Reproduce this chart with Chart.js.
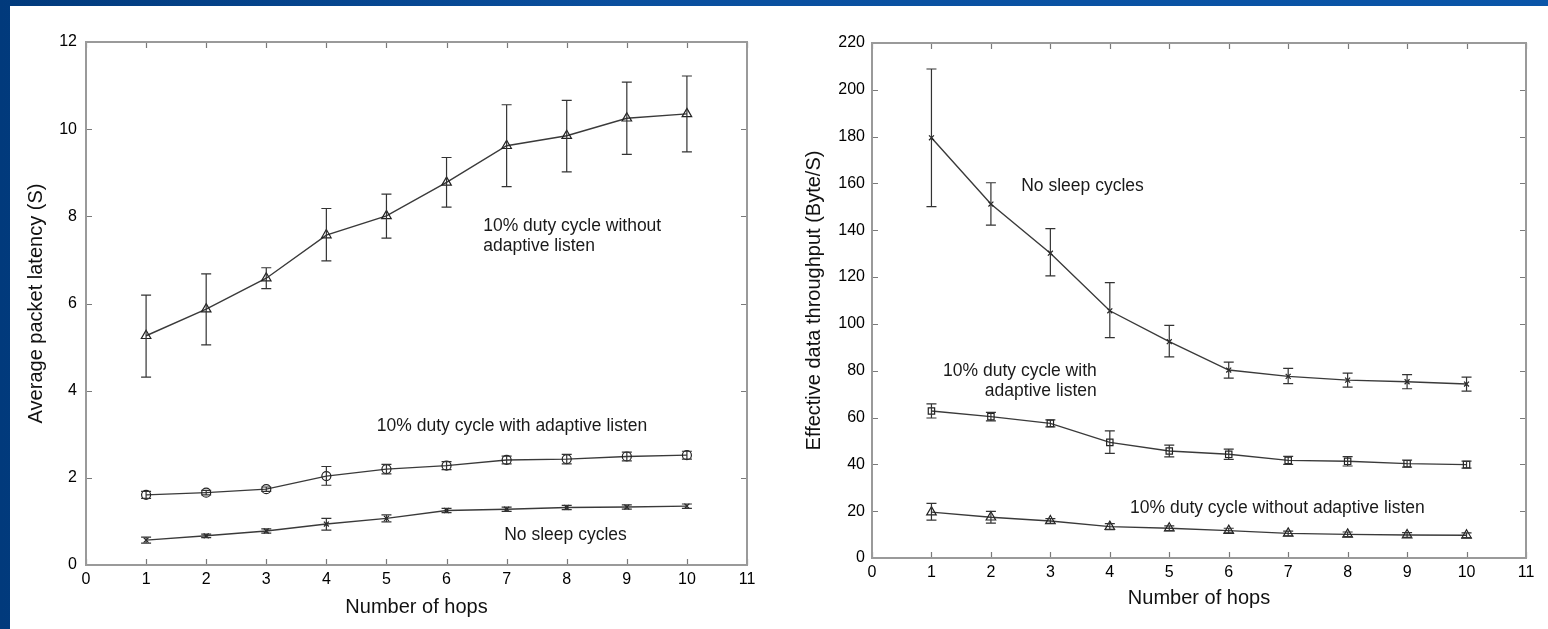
<!DOCTYPE html>
<html>
<head>
<meta charset="utf-8">
<script src="https://cdn.jsdelivr.net/npm/chart.js@4"></script>
<style>
  html, body { margin: 0; padding: 0; }
  body { width: 1548px; height: 629px; overflow: hidden; position: relative;
         background: linear-gradient(to right, #013a7c, #0a4f9e 40%, #0a55a8); }
  #panel { position: absolute; left: 10px; top: 6px; right: 0; bottom: 0; background: #fff; }
  .box { position: absolute; top: 0; height: 629px; }
  #leftBox { left: 0; width: 780px; }
  #rightBox { left: 780px; width: 768px; }
</style>
</head>
<body>
<div id="panel"></div>
<div class="box" id="leftBox"><canvas id="latency"></canvas></div>
<div class="box" id="rightBox"><canvas id="throughput"></canvas></div>
<script>
// number of hops (x axis)
const hops = [1, 2, 3, 4, 5, 6, 7, 8, 9, 10];

// average packet latency (S)
const latNoAdaptive   = [5.26, 5.87, 6.58, 7.57, 8.01, 8.78, 9.62, 9.85, 10.25, 10.35];
const latNoAdaptiveLo = [4.31, 5.05, 6.34, 6.98, 7.50, 8.21, 8.68, 9.02, 9.42, 9.48];
const latNoAdaptiveHi = [6.19, 6.68, 6.82, 8.18, 8.51, 9.35, 10.56, 10.66, 11.08, 11.22];

const latAdaptive   = [1.61, 1.66, 1.74, 2.04, 2.20, 2.28, 2.41, 2.43, 2.49, 2.52];
const latAdaptiveLo = [1.53, 1.61, 1.69, 1.83, 2.09, 2.19, 2.32, 2.32, 2.39, 2.43];
const latAdaptiveHi = [1.69, 1.71, 1.79, 2.26, 2.31, 2.37, 2.50, 2.54, 2.59, 2.61];

const latNoSleep   = [0.57, 0.67, 0.78, 0.94, 1.07, 1.25, 1.28, 1.32, 1.33, 1.35];
const latNoSleepLo = [0.50, 0.63, 0.73, 0.80, 0.99, 1.20, 1.23, 1.27, 1.28, 1.30];
const latNoSleepHi = [0.64, 0.71, 0.83, 1.07, 1.15, 1.30, 1.33, 1.37, 1.38, 1.40];

// effective data throughput (Byte/S)
const thrNoSleep   = [179.5, 151.2, 130.2, 105.6, 92.4, 80.3, 77.6, 76.0, 75.3, 74.3];
const thrNoSleepLo = [150.1, 142.2, 120.5, 94.1, 85.9, 76.8, 74.5, 73.0, 72.3, 71.3];
const thrNoSleepHi = [208.9, 160.3, 140.7, 117.6, 99.4, 83.7, 81.0, 79.0, 78.3, 77.3];

const thrAdaptive   = [62.8, 60.4, 57.5, 49.4, 45.7, 44.3, 41.7, 41.3, 40.3, 39.9];
const thrAdaptiveLo = [59.8, 58.6, 56.0, 44.7, 43.2, 42.1, 40.0, 39.3, 38.8, 38.4];
const thrAdaptiveHi = [65.8, 62.2, 59.0, 54.3, 48.2, 46.5, 43.4, 43.3, 41.8, 41.4];

const thrNoAdaptive   = [19.6, 17.4, 15.8, 13.4, 12.7, 11.7, 10.5, 10.1, 9.8, 9.7];
const thrNoAdaptiveLo = [16.2, 14.9, 14.8, 12.1, 11.7, 10.7, 9.5, 9.1, 8.8, 8.7];
const thrNoAdaptiveHi = [23.3, 19.9, 16.8, 14.7, 13.7, 12.7, 11.5, 11.1, 10.8, 10.7];

const xTicks = [0, 1, 2, 3, 4, 5, 6, 7, 8, 9, 10, 11];

const FONT = '"Liberation Sans", Arial, sans-serif';
const LINE = '#3a3a3a';

const pts = (ys) => hops.map((x, i) => ({ x: x, y: ys[i] }));

function series(ys, lo, hi, style, radius) {
  return {
    data: pts(ys),
    errLo: lo,
    errHi: hi,
    borderColor: LINE,
    borderWidth: 1.4,
    pointStyle: style,
    pointRadius: radius,
    pointBorderColor: '#222',
    pointBorderWidth: 1.2,
    pointBackgroundColor: 'transparent',
    fill: false,
    tension: 0
  };
}

// error bars, drawn through the chart's own scales
const errorBars = {
  id: 'errorBars',
  afterDatasetsDraw(chart) {
    const { ctx, scales: { x, y } } = chart;
    ctx.save();
    ctx.strokeStyle = '#333';
    ctx.lineWidth = 1.2;
    chart.data.datasets.forEach(ds => {
      if (!ds.errLo) return;
      ds.data.forEach((p, i) => {
        const px = x.getPixelForValue(p.x);
        const top = y.getPixelForValue(ds.errHi[i]);
        const bot = y.getPixelForValue(ds.errLo[i]);
        ctx.beginPath();
        ctx.moveTo(px, top); ctx.lineTo(px, bot);
        ctx.moveTo(px - 5, top); ctx.lineTo(px + 5, top);
        ctx.moveTo(px - 5, bot); ctx.lineTo(px + 5, bot);
        ctx.stroke();
      });
    });
    ctx.restore();
  }
};

// matlab style box with inward ticks on all four sides
const frame = {
  id: 'frame',
  afterDraw(chart) {
    const { ctx, chartArea: a, scales: { x, y } } = chart;
    ctx.save();
    ctx.strokeStyle = '#7a7a7a';
    ctx.lineWidth = 1.2;
    ctx.beginPath();
    x.ticks.forEach(t => {
      const px = Math.round(x.getPixelForValue(t.value)) + 0.5;
      ctx.moveTo(px, a.bottom); ctx.lineTo(px, a.bottom - 6);
      ctx.moveTo(px, a.top); ctx.lineTo(px, a.top + 6);
    });
    y.ticks.forEach(t => {
      const py = Math.round(y.getPixelForValue(t.value)) + 0.5;
      ctx.moveTo(a.left, py); ctx.lineTo(a.left + 6, py);
      ctx.moveTo(a.right, py); ctx.lineTo(a.right - 6, py);
    });
    ctx.stroke();
    ctx.lineWidth = 2;
    ctx.strokeStyle = '#9a9a9a';
    ctx.strokeRect(a.left, a.top, a.right - a.left, a.bottom - a.top);
    ctx.restore();
  }
};

// text labels placed in data units
const notes = {
  id: 'notes',
  afterDraw(chart, args, opts) {
    const { ctx, scales: { x, y } } = chart;
    ctx.save();
    ctx.fillStyle = '#1a1a1a';
    ctx.font = '17.5px ' + FONT;
    ctx.textBaseline = 'middle';
    (opts.items || []).forEach(n => {
      ctx.textAlign = n.align || 'left';
      ctx.fillText(n.text, x.getPixelForValue(n.x), y.getPixelForValue(n.y));
    });
    ctx.restore();
  }
};

function makeOptions(cfg) {
  return {
    responsive: true,
    maintainAspectRatio: false,
    animation: false,
    layout: { padding: { top: cfg.top, right: cfg.right, left: 0, bottom: 0 } },
    plugins: {
      legend: { display: false },
      tooltip: { enabled: false },
      notes: { items: cfg.notes }
    },
    scales: {
      x: {
        type: 'linear',
        min: 0, max: 11,
        afterBuildTicks: s => { s.ticks = xTicks.map(v => ({ value: v })); },
        afterFit: s => { s.height = cfg.xHeight; },
        grid: { display: false, drawTicks: false },
        border: { display: false },
        ticks: { color: '#000', font: { family: FONT, size: 16 }, padding: 5 },
        title: { display: true, text: 'Number of hops', color: '#111',
                 font: { family: FONT, size: 20 }, padding: { top: 0, bottom: cfg.xTitlePad } }
      },
      y: {
        min: 0, max: cfg.yMax,
        afterBuildTicks: s => { s.ticks = cfg.yTicks.map(v => ({ value: v })); },
        afterFit: s => { s.width = cfg.yWidth; },
        grid: { display: false, drawTicks: false },
        border: { display: false },
        ticks: { color: '#000', font: { family: FONT, size: 16 }, padding: cfg.yPad },
        title: { display: true, text: cfg.yTitle, color: '#111',
                 font: { family: FONT, size: 20 }, padding: { top: cfg.yTitlePad, bottom: 0 } }
      }
    }
  };
}

const latTicks = [0, 2, 4, 6, 8, 10, 12];
const thrTicks = [0, 20, 40, 60, 80, 100, 120, 140, 160, 180, 200, 220];

new Chart('latency', {
  type: 'line',
  data: {
    datasets: [
      series(latNoAdaptive, latNoAdaptiveLo, latNoAdaptiveHi, 'triangle', 5.5),
      series(latAdaptive, latAdaptiveLo, latAdaptiveHi, 'circle', 4.5),
      series(latNoSleep, latNoSleepLo, latNoSleepHi, 'crossRot', 3.5)
    ]
  },
  options: makeOptions({
    top: 42, right: 33, xHeight: 64, yWidth: 86, yPad: 9, yMax: 12,
    yTicks: latTicks, xTitlePad: 10, yTitlePad: 24,
    yTitle: 'Average packet latency (S)',
    notes: [
      { text: '10% duty cycle without', x: 6.61, y: 7.78 },
      { text: 'adaptive listen', x: 6.61, y: 7.32 },
      { text: '10% duty cycle with adaptive listen', x: 4.84, y: 3.19 },
      { text: 'No sleep cycles', x: 6.96, y: 0.69 }
    ]
  }),
  plugins: [errorBars, frame, notes]
});

new Chart('throughput', {
  type: 'line',
  data: {
    datasets: [
      series(thrNoSleep, thrNoSleepLo, thrNoSleepHi, 'crossRot', 3.5),
      series(thrAdaptive, thrAdaptiveLo, thrAdaptiveHi, 'rect', 4.5),
      series(thrNoAdaptive, thrNoAdaptiveLo, thrNoAdaptiveHi, 'triangle', 5.5)
    ]
  },
  options: makeOptions({
    top: 43, right: 22, xHeight: 71, yWidth: 92, yPad: 7, yMax: 220,
    yTicks: thrTicks, xTitlePad: 19, yTitlePad: 22,
    yTitle: 'Effective data throughput (Byte/S)',
    notes: [
      { text: 'No sleep cycles', x: 2.51, y: 158.9 },
      { text: '10% duty cycle with', x: 3.78, y: 79.9, align: 'right' },
      { text: 'adaptive listen', x: 3.78, y: 71.3, align: 'right' },
      { text: '10% duty cycle without adaptive listen', x: 4.34, y: 21.4 }
    ]
  }),
  plugins: [errorBars, frame, notes]
});
</script>
</body>
</html>
